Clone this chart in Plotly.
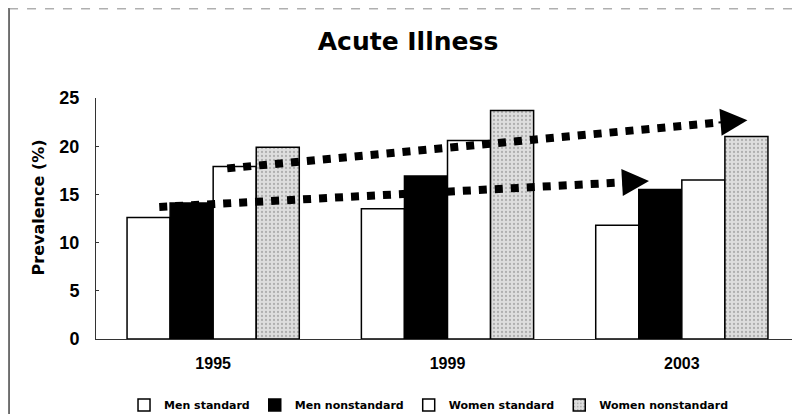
import plotly.graph_objects as go

years = ["1995", "1999", "2003"]
men_standard = [12.6, 13.5, 11.8]
men_nonstandard = [14.1, 16.9, 15.5]
women_standard = [17.9, 20.6, 16.5]
women_nonstandard = [19.9, 23.7, 21.0]

# trend arrows (x in category index units, y in %): dotted start, dotted end, arrow tip
men_trend_x = [-0.23, 1.75, 1.86]
men_trend_y = [13.7, 16.25, 16.4]
women_trend_x = [0.06, 2.15, 2.28]
women_trend_y = [17.7, 22.45, 22.7]

xpos = list(range(len(years)))
SANS = "Liberation Sans, Arial, sans-serif"
WIDE = "DejaVu Sans, Verdana, sans-serif"
NARROW = "Liberation Sans Narrow, Arial Narrow, Liberation Sans, sans-serif"

fig = go.Figure()
series = [
    ("Men standard", men_standard, dict(color="white")),
    ("Men nonstandard", men_nonstandard, dict(color="black")),
    ("Women standard", women_standard, dict(color="white")),
    ("Women nonstandard", women_nonstandard,
     dict(color="#d6d6d6", pattern=dict(shape=".", fgcolor="#808080", bgcolor="#dedede", size=4, solidity=0.25))),
]
for name, vals, m in series:
    m = dict(m)
    m["line"] = dict(color="black", width=1.5)
    fig.add_trace(go.Bar(x=xpos, y=vals, name=name, marker=m))

for tx, ty in [(men_trend_x, men_trend_y), (women_trend_x, women_trend_y)]:
    fig.add_trace(go.Scatter(x=tx[:2], y=ty[:2], mode="lines", showlegend=False, hoverinfo="skip",
                             line=dict(color="black", width=8, dash="dot")))
    fig.add_annotation(x=tx[2], y=ty[2], ax=tx[1], ay=ty[1],
                       xref="x", yref="y", axref="x", ayref="y", text="",
                       showarrow=True, arrowhead=2, arrowsize=2.7, arrowwidth=2, arrowcolor="black")

fig.update_layout(
    width=800, height=414,
    margin=dict(l=88, r=9, t=90, b=83, autoexpand=False),
    paper_bgcolor="white", plot_bgcolor="white",
    barmode="group", bargap=0.265, bargroupgap=0,
    title=dict(text="Acute Illness", x=0.5, xanchor="center", y=0.92, yanchor="middle",
               font=dict(family=WIDE, size=25, color="black", weight="bold")),
    font=dict(family=SANS, color="black"),
    legend=dict(orientation="h", x=0.473, xanchor="center", y=-0.274, yanchor="middle",
                font=dict(family=WIDE, size=11, color="black", weight="bold"),
                itemwidth=30, traceorder="normal", bgcolor="rgba(0,0,0,0)"),
    showlegend=True,
)
fig.update_xaxes(range=[-0.5, 2.5], tickvals=xpos, ticktext=years, showgrid=False, zeroline=False,
                 showline=True, linecolor="#333", linewidth=1, ticks="", automargin=False,
                 tickfont=dict(family=NARROW, size=16, color="black", weight="bold"),
                 ticklabelstandoff=10)
fig.update_yaxes(range=[0, 25], dtick=5, showgrid=False, zeroline=False, automargin=False,
                 showline=True, linecolor="#333", linewidth=1, ticks="inside", ticklen=3, tickcolor="#333",
                 tickfont=dict(family=SANS, size=18, color="black", weight="bold"),
                 ticklabelstandoff=12)

# y-axis title
fig.add_annotation(text="Prevalence (%)", textangle=-90, xref="paper", yref="paper",
                   x=-0.0825, y=0.546, xanchor="center", yanchor="middle", showarrow=False,
                   font=dict(family=WIDE, size=16, color="black", weight="bold"))

# outer frame (left and top edges of the scanned figure border)
fig.add_shape(type="line", xref="paper", yref="paper", x0=-0.1237, x1=-0.1237, y0=-0.36, y1=1.38,
              line=dict(color="#444", width=1.5))
fig.add_shape(type="line", xref="paper", yref="paper", x0=-0.1237, x1=1.02, y0=1.37, y1=1.37,
              line=dict(color="#888", width=1, dash="dash"))

fig.write_html("out.html")
